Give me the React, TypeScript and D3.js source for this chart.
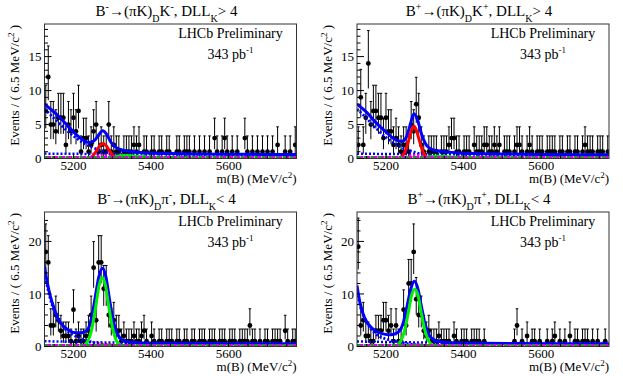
import { useEffect, useRef } from 'react';
import * as d3 from 'd3';

const width = 623;
const height = 376;
const padW = 312.5;
const padH = 188;
const [mt, mr, mb, ml] = [24, 16, 29.5, 44.5];
const frameW = padW - ml - mr;
const frameH = padH - mt - mb;

const massMin = 5125;
const massMax = 5775;
const binWidth = 6.5;

const xTicks = [5200, 5400, 5600];
const yTicksTop = [0, 5, 10, 15];
const yTicksBottom = [0, 10, 20];

// events per 6.5 MeV bin (100 bins, 5125 - 5775)
const countsKm = [
    7, 12, 5, 5, 4, 6, 6, 6, 2, 5, 4, 6, 4, 7, 1, 3, 3, 1, 2, 4,
    5, 1, 2, 1, 1, 5, 1, 2, 1, 1, 0, 1, 1, 1, 1, 2, 1, 2, 0, 1,
    1, 0, 1, 1, 0, 1, 1, 0, 1, 1, 0, 0, 1, 1, 0, 1, 1, 1, 0, 1,
    0, 1, 0, 1, 0, 1, 0, 3, 1, 0, 1, 3, 1, 0, 1, 0, 1, 0, 0, 3,
    1, 0, 1, 0, 1, 0, 1, 0, 1, 0, 1, 0, 2, 0, 0, 1, 0, 1, 0, 2
];
const countsKp = [
    2, 9, 2, 6, 14, 5, 7, 7, 6, 6, 3, 6, 4, 4, 2, 3, 2, 1, 2, 2,
    1, 5, 4, 8, 6, 2, 1, 0, 1, 1, 1, 1, 0, 1, 1, 1, 2, 3, 3, 1,
    1, 0, 1, 1, 1, 0, 2, 1, 1, 1, 2, 2, 1, 1, 2, 1, 2, 0, 1, 1,
    1, 0, 1, 2, 2, 1, 0, 1, 2, 1, 0, 1, 1, 1, 0, 1, 1, 1, 1, 0,
    1, 1, 0, 1, 1, 0, 1, 1, 0, 1, 2, 1, 1, 1, 0, 1, 1, 1, 0, 1
];
const countsPim = [
    18, 16, 4, 4, 6, 5, 3, 2, 2, 2, 1, 7, 1, 2, 1, 1, 2, 3, 6, 15,
    5, 16, 16, 11, 11, 6, 4, 5, 3, 3, 1, 2, 1, 1, 1, 2, 1, 1, 2, 3,
    1, 0, 2, 1, 0, 1, 1, 0, 1, 1, 1, 0, 1, 1, 0, 1, 1, 0, 1, 1,
    0, 1, 1, 1, 0, 1, 1, 1, 0, 1, 1, 1, 0, 1, 1, 1, 0, 1, 1, 1,
    1, 4, 1, 1, 0, 1, 0, 1, 1, 0, 1, 1, 1, 1, 0, 3, 1, 0, 1, 1
];
const countsPip = [
    19, 4, 5, 2, 2, 1, 1, 3, 3, 3, 5, 5, 3, 4, 1, 4, 1, 1, 7, 4,
    12, 12, 18, 9, 6, 6, 3, 2, 3, 1, 1, 1, 2, 1, 1, 1, 1, 0, 2, 1,
    0, 1, 1, 1, 0, 1, 1, 1, 1, 0, 1, 0, 0, 0, 0, 0, 0, 0, 0, 0,
    0, 0, 1, 4, 0, 1, 0, 2, 0, 1, 1, 0, 1, 0, 0, 1, 0, 1, 2, 0,
    1, 0, 1, 0, 2, 0, 1, 1, 0, 1, 1, 1, 0, 1, 0, 1, 0, 0, 1, 0
];

// fit curves: [mass, events]
const totalKm = [[5125, 8.0], [5140, 7.3], [5160, 6.3], [5180, 5.1], [5200, 3.9], [5220, 2.9], [5240, 2.35], [5255, 2.7], [5265, 3.5], [5275, 4.1], [5285, 3.6], [5295, 2.5], [5310, 1.6], [5330, 1.2], [5360, 0.95], [5400, 0.8], [5450, 0.72], [5500, 0.68], [5600, 0.63], [5700, 0.6], [5775, 0.58]];
const signalKm = [[5240, 0], [5250, 0.4], [5260, 1.2], [5268, 1.9], [5276, 2.2], [5284, 1.9], [5292, 1.2], [5302, 0.4], [5312, 0]];
const crossKm = [[5290, 0], [5310, 0.3], [5330, 0.45], [5350, 0.4], [5380, 0.25], [5420, 0.1], [5480, 0.03], [5540, 0]];
const partKm = [[5125, 7.3], [5150, 5.9], [5175, 4.5], [5200, 3.3], [5225, 2.3], [5250, 1.6], [5275, 1.1], [5300, 0.7], [5325, 0.45], [5350, 0.28], [5400, 0.12], [5450, 0.05]];
const combKm = [[5125, 0.72], [5400, 0.62], [5775, 0.55]];
const otherKm = [[5230, 0], [5250, 0.2], [5270, 0.45], [5290, 0.4], [5310, 0.15], [5330, 0]];

const totalKp = [[5125, 8.0], [5150, 6.8], [5175, 5.2], [5200, 3.9], [5220, 2.9], [5240, 2.5], [5252, 3.1], [5262, 4.9], [5272, 6.6], [5282, 5.5], [5292, 3.5], [5305, 1.9], [5320, 1.3], [5345, 1.05], [5380, 0.85], [5430, 0.72], [5500, 0.66], [5600, 0.6], [5700, 0.57], [5775, 0.55]];
const signalKp = [[5236, 0], [5248, 0.9], [5258, 2.6], [5266, 4.2], [5272, 4.8], [5278, 4.2], [5286, 2.6], [5296, 0.9], [5308, 0]];
const crossKp = [[5290, 0], [5310, 0.25], [5330, 0.35], [5350, 0.3], [5380, 0.2], [5420, 0.08], [5480, 0.02], [5540, 0]];
const partKp = [[5125, 7.3], [5150, 5.9], [5175, 4.4], [5200, 3.1], [5225, 2.1], [5250, 1.4], [5275, 0.9], [5300, 0.55], [5325, 0.35], [5350, 0.2], [5400, 0.08], [5450, 0.03]];
const combKp = [[5125, 0.7], [5400, 0.6], [5775, 0.53]];
const otherKp = [[5230, 0], [5250, 0.2], [5270, 0.5], [5290, 0.45], [5310, 0.15], [5330, 0]];

const totalPim = [[5125, 15.2], [5132, 12.2], [5140, 9.6], [5150, 7.2], [5160, 5.3], [5175, 3.8], [5190, 3.0], [5205, 2.6], [5220, 2.6], [5235, 3.1], [5245, 5.0], [5255, 9.0], [5265, 13.2], [5274, 14.9], [5283, 13.4], [5292, 9.3], [5302, 5.0], [5312, 2.5], [5325, 1.3], [5345, 0.85], [5380, 0.68], [5450, 0.6], [5550, 0.55], [5650, 0.52], [5775, 0.5]];
const signalPim = [[5222, 0], [5235, 0.8], [5248, 3.7], [5258, 8.0], [5266, 11.7], [5274, 13.1], [5282, 11.7], [5290, 8.0], [5300, 3.7], [5313, 0.8], [5328, 0]];
const crossPim = [[5230, 0], [5250, 0.2], [5275, 0.3], [5300, 0.25], [5330, 0.1], [5360, 0]];
const partPim = [[5125, 14.0], [5135, 10.5], [5145, 7.8], [5160, 5.2], [5175, 3.6], [5190, 2.6], [5210, 1.8], [5230, 1.2], [5250, 0.8], [5275, 0.45], [5300, 0.25], [5340, 0.1], [5400, 0.03]];
const combPim = [[5125, 1.0], [5300, 0.75], [5500, 0.6], [5775, 0.5]];

const totalPip = [[5125, 11.6], [5132, 8.6], [5140, 6.4], [5150, 4.7], [5162, 3.6], [5175, 2.9], [5190, 2.45], [5205, 2.25], [5220, 2.35], [5235, 3.0], [5245, 4.7], [5255, 8.0], [5264, 11.0], [5273, 12.4], [5282, 11.0], [5291, 7.7], [5301, 4.2], [5312, 2.1], [5325, 1.2], [5345, 0.85], [5380, 0.68], [5450, 0.6], [5550, 0.55], [5650, 0.52], [5775, 0.5]];
const signalPip = [[5222, 0], [5235, 0.7], [5248, 3.1], [5258, 6.7], [5266, 9.8], [5274, 10.9], [5282, 9.8], [5290, 6.7], [5300, 3.1], [5313, 0.7], [5328, 0]];
const crossPip = [[5230, 0], [5250, 0.15], [5275, 0.25], [5300, 0.2], [5330, 0.08], [5360, 0]];
const partPip = [[5125, 10.5], [5135, 7.4], [5145, 5.3], [5160, 3.5], [5175, 2.3], [5190, 1.7], [5210, 1.2], [5230, 0.9], [5250, 0.6], [5275, 0.35], [5300, 0.2], [5340, 0.08], [5400, 0.02]];
const combPip = [[5125, 0.95], [5300, 0.75], [5500, 0.6], [5775, 0.5]];

// title pieces: [text, 'n' | 'sup' | 'sub']
const titleKm = [['B', 'n'], ['-', 'sup'], ['\u2192(\u03c0K)', 'n'], ['D', 'sub'], ['K', 'n'], ['-', 'sup'], [', DLL', 'n'], ['K', 'sub'], ['> 4', 'n']];
const titleKp = [['B', 'n'], ['+', 'sup'], ['\u2192(\u03c0K)', 'n'], ['D', 'sub'], ['K', 'n'], ['+', 'sup'], [', DLL', 'n'], ['K', 'sub'], ['> 4', 'n']];
const titlePim = [['B', 'n'], ['-', 'sup'], ['\u2192(\u03c0K)', 'n'], ['D', 'sub'], ['\u03c0', 'n'], ['-', 'sup'], [', DLL', 'n'], ['K', 'sub'], ['< 4', 'n']];
const titlePip = [['B', 'n'], ['+', 'sup'], ['\u2192(\u03c0K)', 'n'], ['D', 'sub'], ['\u03c0', 'n'], ['+', 'sup'], [', DLL', 'n'], ['K', 'sub'], ['< 4', 'n']];

const panels = [
    { col: 0, row: 0, title: titleKm, counts: countsKm, total: totalKm, signal: signalKm, cross: crossKm, part: partKm, comb: combKm, other: otherKm, ymax: 19.8, yTicks: yTicksTop, minor: 1, sigColor: '#ff0000', crossColor: '#00ee00' },
    { col: 1, row: 0, title: titleKp, counts: countsKp, total: totalKp, signal: signalKp, cross: crossKp, part: partKp, comb: combKp, other: otherKp, ymax: 19.8, yTicks: yTicksTop, minor: 1, sigColor: '#ff0000', crossColor: '#00ee00' },
    { col: 0, row: 1, title: titlePim, counts: countsPim, total: totalPim, signal: signalPim, cross: crossPim, part: partPim, comb: combPim, other: null, ymax: 25.6, yTicks: yTicksBottom, minor: 2, sigColor: '#00ee00', crossColor: '#ff0000' },
    { col: 1, row: 1, title: titlePip, counts: countsPip, total: totalPip, signal: signalPip, cross: crossPip, part: partPip, comb: combPip, other: null, ymax: 25.6, yTicks: yTicksBottom, minor: 2, sigColor: '#00ee00', crossColor: '#ff0000' }
];

// 68% Poisson interval (Gehrels approximation)
function poisson(n: number) {
    if (n === 0) return [0, 1.148];
    const lo = n * Math.pow(1 - 1 / (9 * n) - 1 / (3 * Math.sqrt(n)), 3);
    const hi = n + 1 + Math.sqrt(n + 0.75);
    return [lo, hi];
}

const font = "'Liberation Serif', 'Times New Roman', serif";

export default function App() {
    const ref = useRef<HTMLDivElement>(null);

    useEffect(() => {
        const node = ref.current;
        if (!node) return;
        d3.select(node).selectAll('*').remove();

        const svg = d3
            .select(node)
            .append('svg')
            .attr('width', width)
            .attr('height', height)
            .attr('viewBox', [0, 0, width, height])
            .attr('font-family', font)
            .style('display', 'block')
            .style('background', '#fff');

        panels.forEach((p, k) => {
            const g = svg.append('g').attr('transform', `translate(${p.col * padW},${p.row * padH})`);

            const x = d3.scaleLinear().domain([massMin, massMax]).range([ml, ml + frameW]);
            const y = d3.scaleLinear().domain([0, p.ymax]).range([mt + frameH, mt]);

            const clipId = `clip${k}`;
            g.append('clipPath')
                .attr('id', clipId)
                .append('rect')
                .attr('x', ml)
                .attr('y', mt)
                .attr('width', frameW)
                .attr('height', frameH);

            const plot = g.append('g').attr('clip-path', `url(#${clipId})`);

            // data points with poisson errors, empty bins left out
            const bins = p.counts.map((n, i) => ({ m: massMin + binWidth * (i + 0.5), n }));
            const filled = bins.filter((d) => d.n > 0);
            const bars = plot.append('g').attr('stroke', '#000').attr('stroke-width', 1);
            filled.forEach((d) => {
                const [lo, hi] = poisson(d.n);
                const cx = x(d.m);
                bars.append('line').attr('x1', cx).attr('x2', cx).attr('y1', y(lo)).attr('y2', y(hi));
                bars.append('line').attr('x1', cx - 1.3).attr('x2', cx + 1.3).attr('y1', y(hi)).attr('y2', y(hi));
            });
            plot.append('g')
                .selectAll('circle')
                .data(filled)
                .join('circle')
                .attr('cx', (d) => x(d.m))
                .attr('cy', (d) => y(d.n))
                .attr('r', 2.4)
                .attr('fill', '#000');

            const line = d3
                .line<number[]>()
                .x((d) => x(d[0]))
                .y((d) => y(d[1]))
                .curve(d3.curveMonotoneX);

            const draw = (data: number[][], color: string, w: number, dash: string | null) =>
                plot
                    .append('path')
                    .attr('d', line(data))
                    .attr('fill', 'none')
                    .attr('stroke', color)
                    .attr('stroke-width', w)
                    .attr('stroke-dasharray', dash)
                    .attr('stroke-linejoin', 'round');

            draw(p.comb, '#0000ff', 2.5, '2,2');
            draw(p.part, '#0000ff', 2.8, '2,2');
            draw(p.total, '#0000ff', 3, null);
            draw(p.cross, p.crossColor, 2.8, null);
            draw(p.signal, p.sigColor, 3, null);
            if (p.other) draw(p.other, '#ff00ff', 2.5, '2,2');

            // components sitting on zero
            const y0 = y(0) - 1.2;
            plot.append('line').attr('x1', ml).attr('x2', ml + frameW).attr('y1', y0).attr('y2', y0)
                .attr('stroke', '#2e8b2e').attr('stroke-width', 2.4).attr('stroke-dasharray', '4,3');
            plot.append('line').attr('x1', ml + 3.5).attr('x2', ml + frameW).attr('y1', y0).attr('y2', y0)
                .attr('stroke', '#dd00dd').attr('stroke-width', 2.4).attr('stroke-dasharray', '3,4');

            // frame
            g.append('rect')
                .attr('x', ml)
                .attr('y', mt)
                .attr('width', frameW)
                .attr('height', frameH)
                .attr('fill', 'none')
                .attr('stroke', '#333')
                .attr('stroke-width', 1);

            // ticks inside the frame
            const axis = g.append('g').attr('stroke', '#000').attr('stroke-width', 1);
            d3.range(5150, massMax, 50).forEach((t) => {
                const major = xTicks.includes(t);
                axis.append('line').attr('x1', x(t)).attr('x2', x(t))
                    .attr('y1', mt + frameH).attr('y2', mt + frameH - (major ? 5 : 2.5));
            });
            d3.range(0, p.ymax, p.minor).forEach((t) => {
                const major = p.yTicks.includes(t);
                axis.append('line').attr('x1', ml).attr('x2', ml + (major ? 7 : 3.5))
                    .attr('y1', y(t)).attr('y2', y(t));
            });

            g.append('g')
                .selectAll('text')
                .data(xTicks)
                .join('text')
                .attr('x', (d) => x(d))
                .attr('y', mt + frameH + 11)
                .attr('text-anchor', 'middle')
                .attr('font-size', 13)
                .text((d) => d);

            g.append('g')
                .selectAll('text')
                .data(p.yTicks)
                .join('text')
                .attr('x', ml - 3)
                .attr('y', (d) => y(d))
                .attr('dy', '0.35em')
                .attr('text-anchor', 'end')
                .attr('font-size', 13)
                .text((d) => d);

            // axis titles
            const xt = g.append('text')
                .attr('x', ml + frameW)
                .attr('y', mt + frameH + 24.5)
                .attr('text-anchor', 'end')
                .attr('font-size', 13);
            xt.append('tspan').text('m(B) (MeV/c');
            xt.append('tspan').attr('font-size', 9).attr('dy', -5).text('2');
            xt.append('tspan').attr('dy', 5).text(')');

            const yt = g.append('text')
                .attr('transform', `translate(19,${mt + 1}) rotate(-90)`)
                .attr('text-anchor', 'end')
                .attr('font-size', 13);
            yt.append('tspan').text('Events / ( 6.5 MeV/c');
            yt.append('tspan').attr('font-size', 9).attr('dy', -5).text('2');
            yt.append('tspan').attr('dy', 5).text(' )');

            // title
            const tt = g.append('text')
                .attr('x', ml + frameW / 2 - 4)
                .attr('y', 16)
                .attr('text-anchor', 'middle')
                .attr('font-size', 15);
            let shift = 0;
            p.title.forEach(([s, kind]) => {
                const target = kind === 'sup' ? -6 : kind === 'sub' ? 6 : 0;
                tt.append('tspan')
                    .attr('dy', target - shift)
                    .attr('font-size', kind === 'n' ? 15 : 10)
                    .text(s);
                shift = target;
            });

            // labels
            g.append('text')
                .attr('x', ml + frameW - 66)
                .attr('y', mt + 14)
                .attr('text-anchor', 'middle')
                .attr('font-size', 14)
                .text('LHCb Preliminary');
            const lum = g.append('text')
                .attr('x', ml + frameW - 66)
                .attr('y', mt + 35)
                .attr('text-anchor', 'middle')
                .attr('font-size', 14);
            lum.append('tspan').text('343 pb');
            lum.append('tspan').attr('font-size', 9).attr('dy', -6).text('-1');
        });
    }, []);

    return (
        <>
            <style>{'body { margin: 0; background: #fff; }'}</style>
            <div ref={ref} />
        </>
    );
}
